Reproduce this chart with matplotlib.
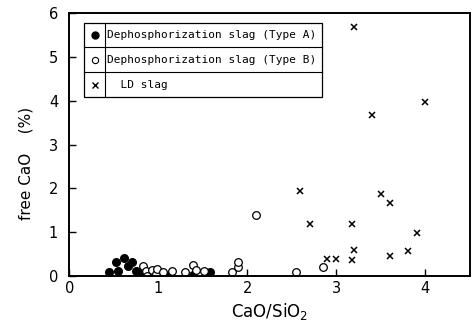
import matplotlib
matplotlib.use("Agg")
import matplotlib.pyplot as plt
import numpy as np

# Dephosphorization slag (Type A)
a_x = [0.45, 0.52, 0.55, 0.62, 0.66, 0.70, 0.75, 0.80, 0.85, 0.90, 1.01, 1.12, 1.39, 1.58]
a_y = [0.10, 0.33, 0.12, 0.41, 0.22, 0.33, 0.12, 0.12, 0.08, 0.05, 0.08, 0.02, 0.02, 0.08]

# Dephosphorization slag (Type B)
b_x = [0.83, 0.86, 0.87, 0.93, 0.97, 0.98, 1.05, 1.15, 1.30, 1.39, 1.42, 1.51,
       1.83, 1.90, 1.90, 2.10, 2.55, 2.85]
b_y = [0.22, 0.12, 0.00, 0.14, 0.05, 0.15, 0.10, 0.12, 0.10, 0.24, 0.13, 0.12,
       0.08, 0.20, 0.33, 1.39, 0.10, 0.20]

# LD slag
ld_x = [2.59, 2.70, 2.90, 3.00, 3.18, 3.20, 3.18, 3.50, 3.60, 3.60, 3.80, 3.91,
        3.20, 3.99, 3.40]
ld_y = [1.95, 1.18, 0.39, 0.39, 1.18, 0.59, 0.36, 1.88, 1.67, 0.46, 0.57, 0.99,
        5.69, 3.96, 3.68]

legend_labels = ["Dephosphorization slag (Type A)",
                 "Dephosphorization slag (Type B)",
                 "  LD slag"]

fig = plt.figure(figsize=(4.73, 3.27), dpi=100)
ax = fig.add_axes([0.1465, 0.156, 0.847, 0.804])

ax.plot(a_x, a_y, "o", color="black", markersize=5.5, linestyle="none")
ax.plot(b_x, b_y, "o", markerfacecolor="white", markeredgecolor="black",
        markeredgewidth=0.9, markersize=5.5, linestyle="none")
ax.plot(ld_x, ld_y, "x", color="black", markersize=5, markeredgewidth=1.1,
        linestyle="none")

ax.set_xlim(0, 4.5)
ax.set_ylim(0, 6)
ax.set_xticks([0, 1, 2, 3, 4])
ax.set_yticks([0, 1, 2, 3, 4, 5, 6])
ax.tick_params(direction="in", length=5, width=1, labelsize=10.5)
ax.tick_params(axis="y", pad=8)
for s in ax.spines.values():
    s.set_linewidth(1.4)

ax.set_xlabel("CaO/SiO$_2$", fontsize=12, labelpad=4)
ax.set_ylabel("free CaO    (%)", fontsize=11)
ax.yaxis.set_label_coords(-0.09, 0.43)

# hand-drawn style legend table
lx0, lx1, lx2 = 0.037, 0.089, 0.63
ly = [0.963, 0.87, 0.775, 0.68]
ax.add_patch(plt.Rectangle((lx0, ly[3]), lx2 - lx0, ly[0] - ly[3],
                           transform=ax.transAxes, fill=False, lw=0.9,
                           edgecolor="black", zorder=5))
ax.plot([lx1, lx1], [ly[3], ly[0]], transform=ax.transAxes, color="black", lw=0.8)
for yy in ly[1:3]:
    ax.plot([lx0, lx2], [yy, yy], transform=ax.transAxes, color="black", lw=0.8)
styles = [dict(marker="o", color="black", markersize=5),
          dict(marker="o", markerfacecolor="white", markeredgecolor="black",
               markersize=4.5, markeredgewidth=0.8),
          dict(marker="x", color="black", markersize=4.5, markeredgewidth=1)]
for i, (lab, st) in enumerate(zip(legend_labels, styles)):
    yc = (ly[i] + ly[i + 1]) / 2
    ax.plot([(lx0 + lx1) / 2], [yc], transform=ax.transAxes, linestyle="none", **st)
    ax.text(lx1 + 0.006, yc, lab, transform=ax.transAxes, va="center", ha="left",
            fontsize=8, family="DejaVu Sans Mono")

fig.savefig("out.png", dpi=100)
